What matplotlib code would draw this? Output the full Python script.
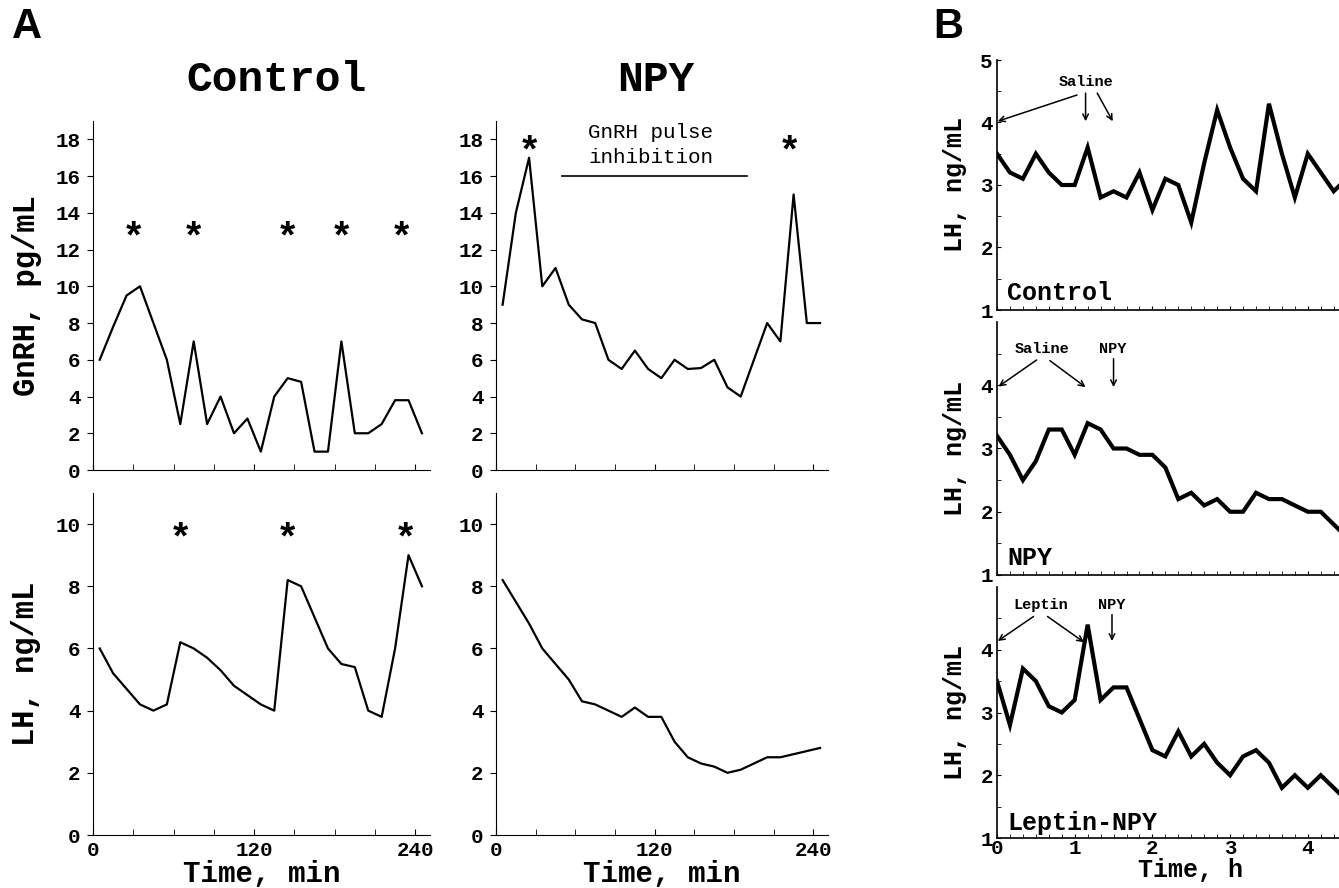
import matplotlib
matplotlib.use("Agg")
import matplotlib.pyplot as plt
import numpy as np

plt.rcParams['font.family'] = ['Liberation Mono', 'DejaVu Sans Mono']
plt.rcParams['font.weight'] = 'bold'
plt.rcParams['axes.labelweight'] = 'bold'

# ---- panel A data (sampling every 10 min) ----
t_min = [5, 15, 25, 35, 45, 55, 65, 75, 85, 95, 105, 115, 125,
         135, 145, 155, 165, 175, 185, 195, 205, 215, 225, 235, 245]
gnrh_ctrl = [6, 7.8, 9.5, 10, 8, 6, 2.5, 7, 2.5, 4, 2, 2.8, 1,
             4, 5, 4.8, 1, 1, 7, 2, 2, 2.5, 3.8, 3.8, 2]
gnrh_npy = [9, 14, 17, 10, 11, 9, 8.2, 8, 6, 5.5, 6.5, 5.5, 5,
            6, 5.5, 5.55, 6, 4.5, 4, 6, 8, 7, 15, 8, 8]
lh_ctrl = [6, 5.2, 4.7, 4.2, 4.0, 4.2, 6.2, 6.0, 5.7, 5.3, 4.8, 4.5, 4.2,
           4.0, 8.2, 8.0, 7.0, 6.0, 5.5, 5.4, 4.0, 3.8, 6.0, 9.0, 8.0]
lh_npy = [8.2, 7.5, 6.8, 6.0, 5.5, 5.0, 4.3, 4.2, 4.0, 3.8, 4.1, 3.8, 3.8,
          3.0, 2.5, 2.3, 2.2, 2.0, 2.1, 2.3, 2.5, 2.5, 2.6, 2.7, 2.8]

# pulse asterisks (times)
star_gnrh_ctrl = [30, 75, 145, 185, 230]
star_gnrh_npy = [25, 222]
star_lh_ctrl = [65, 145, 233]

# ---- panel B data (every 10 min, in hours) ----
t_b_min = [0, 10, 20, 30, 40, 50, 60, 70, 80, 90, 100, 110, 120, 130,
           140, 150, 160, 170, 180, 190, 200, 210, 220, 230, 240, 250, 260, 270]
lhb_ctrl = [3.5, 3.2, 3.1, 3.5, 3.2, 3.0, 3.0, 3.6, 2.8, 2.9, 2.8, 3.2, 2.6, 3.1,
            3.0, 2.4, 3.35, 4.2, 3.6, 3.1, 2.9, 4.3, 3.5, 2.8, 3.5, 3.2, 2.9, 3.1]
lhb_npy = [3.2, 2.9, 2.5, 2.8, 3.3, 3.3, 2.9, 3.4, 3.3, 3.0, 3.0, 2.9, 2.9, 2.7,
           2.2, 2.3, 2.1, 2.2, 2.0, 2.0, 2.3, 2.2, 2.2, 2.1, 2.0, 2.0, 1.8, 1.6]
lhb_lep = [3.5, 2.8, 3.7, 3.5, 3.1, 3.0, 3.2, 4.4, 3.2, 3.4, 3.4, 2.9, 2.4, 2.3,
           2.7, 2.3, 2.5, 2.2, 2.0, 2.3, 2.4, 2.2, 1.8, 2.0, 1.8, 2.0, 1.8, 1.6]
t_b = np.array(t_b_min) / 60.0

W, H = 1339, 888
fig = plt.figure(figsize=(W / 100, H / 100), dpi=100)


def rect(l, r, top, bot):
    return [l / W, 1 - bot / H, (r - l) / W, (bot - top) / H]


def style_a(ax, ymax, yticks):
    for s in ['top', 'right']:
        ax.spines[s].set_visible(False)
    ax.set_xlim(0, 251)
    ax.set_ylim(0, ymax)
    ax.set_xticks([0, 120, 240])
    ax.set_xticks([30, 60, 90, 150, 180, 210], minor=True)
    ax.set_yticks(yticks)
    ax.tick_params(axis='x', which='both', direction='in', length=4, pad=4, labelsize=15)
    ax.tick_params(axis='y', direction='out', length=4, pad=5, labelsize=15)


ax1 = fig.add_axes(rect(93, 430, 121, 470))
ax2 = fig.add_axes(rect(496, 828, 121, 470))
ax3 = fig.add_axes(rect(93, 430, 493, 835))
ax4 = fig.add_axes(rect(496, 828, 493, 835))

for ax, y in [(ax1, gnrh_ctrl), (ax2, gnrh_npy), (ax3, lh_ctrl), (ax4, lh_npy)]:
    ax.plot(t_min, y, color='black', lw=1.6)

style_a(ax1, 19, range(0, 19, 2))
style_a(ax2, 19, range(0, 19, 2))
style_a(ax3, 11, range(0, 11, 2))
style_a(ax4, 11, range(0, 11, 2))
ax1.set_xticklabels([])
ax2.set_xticklabels([])

for x in star_gnrh_ctrl:
    ax1.text(x, 12.6, '*', fontsize=28, ha='center', va='center')
for x in star_gnrh_npy:
    ax2.text(x, 17.3, '*', fontsize=28, ha='center', va='center')
for x in star_lh_ctrl:
    ax3.text(x, 9.5, '*', fontsize=28, ha='center', va='center')

ax2.text(117, 17.7, 'GnRH pulse\ninhibition', fontsize=15, fontweight='normal',
         ha='center', va='center', linespacing=1.45)
ax2.plot([50, 190], [16, 16], color='black', lw=1.2)

ax1.set_ylabel('GnRH, pg/mL', fontsize=22)
ax1.yaxis.set_label_coords(-0.15, 0.5)
ax3.set_ylabel('LH, ng/mL', fontsize=22)
ax3.yaxis.set_label_coords(-0.155, 0.5)
for ax in (ax3, ax4):
    ax.set_xlabel('Time, min', fontsize=21, labelpad=0)

fig.text(277 / W, 1 - 80 / H, 'Control', fontsize=31, ha='center', va='center')
fig.text(656 / W, 1 - 80 / H, 'NPY', fontsize=31, ha='center', va='center')

# ---- panel B (axes run past the right edge, as in the original crop) ----
bx1 = fig.add_axes(rect(997, 997 + 5 * 77.7, 60, 310))
bx2 = fig.add_axes(rect(997, 997 + 5 * 77.7, 322, 575))
bx3 = fig.add_axes(rect(997, 997 + 5 * 77.7, 587, 838))

for ax, y, top in [(bx1, lhb_ctrl, 5), (bx2, lhb_npy, 4), (bx3, lhb_lep, 4)]:
    ax.plot(t_b, y, color='black', lw=3, solid_joinstyle='miter')
    for s in ['top', 'right']:
        ax.spines[s].set_visible(False)
    ax.spines['left'].set_linewidth(1.2)
    ax.spines['bottom'].set_linewidth(1.2)
    ax.set_xlim(0, 5)
    ax.set_ylim(1, 5)
    ax.set_xticks([0, 1, 2, 3, 4])
    ax.set_xticks(t_b, minor=True)
    ax.set_yticks(list(range(1, top + 1)))
    ax.set_yticks([1.5, 2.5, 3.5, 4.5], minor=True)
    ax.tick_params(which='both', direction='in', length=3)
    ax.tick_params(axis='y', which='major', labelsize=15, pad=3)
    ax.tick_params(axis='x', which='major', labelsize=15, pad=1)
    ax.set_ylabel('LH, ng/mL', fontsize=18)
    ax.yaxis.set_label_coords(-0.077, 0.5)

bx1.set_xticklabels([])
bx2.set_xticklabels([])
bx3.set_xlabel('Time, h', fontsize=18, labelpad=0)
bx3.xaxis.set_label_coords(193 / 388.5, -0.08)

bx1.text(0.13, 1.16, 'Control', fontsize=18, ha='left', va='baseline')
bx2.text(0.13, 1.16, 'NPY', fontsize=18, ha='left', va='baseline')
bx3.text(0.13, 1.13, 'Leptin-NPY', fontsize=18, ha='left', va='baseline')

arw = dict(arrowstyle='->', lw=1.1, color='black', shrinkA=0, shrinkB=0)

bx1.text(1.15, 4.65, 'Saline', fontsize=11, ha='center', va='center')
bx1.annotate('', xy=(0.01, 4.02), xytext=(1.03, 4.44), arrowprops=arw)
bx1.annotate('', xy=(1.14, 4.02), xytext=(1.14, 4.47), arrowprops=arw)
bx1.annotate('', xy=(1.49, 4.02), xytext=(1.29, 4.47), arrowprops=arw)

bx2.text(0.58, 4.58, 'Saline', fontsize=11, ha='center', va='center')
bx2.annotate('', xy=(0.02, 3.98), xytext=(0.51, 4.4), arrowprops=arw)
bx2.annotate('', xy=(1.14, 3.97), xytext=(0.68, 4.39), arrowprops=arw)
bx2.text(1.49, 4.58, 'NPY', fontsize=11, ha='center', va='center')
bx2.annotate('', xy=(1.5, 3.97), xytext=(1.5, 4.42), arrowprops=arw)

bx3.text(0.56, 4.72, 'Leptin', fontsize=11, ha='center', va='center')
bx3.annotate('', xy=(0.01, 4.14), xytext=(0.47, 4.53), arrowprops=arw)
bx3.annotate('', xy=(1.12, 4.12), xytext=(0.65, 4.53), arrowprops=arw)
bx3.text(1.48, 4.72, 'NPY', fontsize=11, ha='center', va='center')
bx3.annotate('', xy=(1.48, 4.14), xytext=(1.48, 4.56), arrowprops=arw)

fig.text(12 / W, 1 - 27 / H, 'A', fontsize=30, ha='left', va='center',
         family=['Liberation Sans', 'DejaVu Sans'], fontweight='bold')
fig.text(933 / W, 1 - 27 / H, 'B', fontsize=30, ha='left', va='center',
         family=['Liberation Sans', 'DejaVu Sans'], fontweight='bold')

fig.savefig('out.png', dpi=100)
